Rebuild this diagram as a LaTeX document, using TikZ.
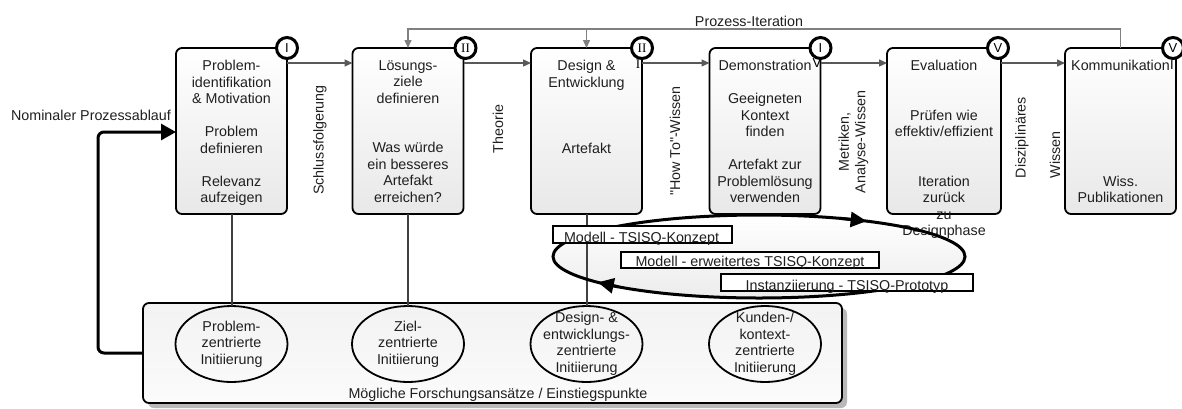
\documentclass[tikz,border=0pt]{standalone}
\usepackage{fontspec}
\setmainfont{Liberation Sans}[Ligatures=TeXOff]
\newfontfamily\romanfont{Liberation Serif}
\usetikzlibrary{arrows.meta,calc,shapes.geometric}
\begin{document}
\begin{tikzpicture}[x=1pt,y=-1pt,
  every node/.style={inner sep=0pt,outer sep=0pt},
  lbl/.style={font=\fontsize{14.3}{16.5}\selectfont,align=center,text=black!88},
  stepbox/.style={draw=black,line width=1.8pt,rounded corners=6pt,top color=white,bottom color=gray!18,minimum width=111pt,minimum height=166pt},
  steptext/.style={lbl,anchor=north,execute at begin node=\strut},
  numcirc/.style={circle,draw=black,line width=3pt,fill=white,minimum size=21pt,font=\fontsize{13}{15}\selectfont},
  numover/.style={font=\fontsize{13}{15}\selectfont},
  flow/.style={draw=black!65,line width=1.4pt,-{Triangle[length=8pt,width=7pt]}},
  iterline/.style={draw=black!50,line width=1.4pt},
  iterarrow/.style={iterline,-{Triangle[length=8pt,width=7pt]}},
  vline/.style={draw=black!75,line width=2pt},
  nominal/.style={draw=black,line width=3pt,rounded corners=6pt,-{Triangle[length=15pt,width=16pt]}},
  cycline/.style={draw=black,line width=3pt},
  cycarrow/.style={cycline,-{Triangle[length=16pt,width=15pt]}},
  tag/.style={draw=black,line width=1.8pt,fill=white},
  approach/.style={ellipse,draw=black,line width=1.8pt,minimum width=112pt,minimum height=76pt},
  rot/.style={lbl,rotate=90},
]

\useasboundingbox (0,0) rectangle (1182,408);

% panel of possible entry points, with its shadow
\fill[gray!55,rounded corners=6pt] (148,308) rectangle (847,408);
\node[draw=black,line width=1.8pt,rounded corners=6pt,top color=gray!10,bottom color=gray!3,
      minimum width=699pt,minimum height=100pt] (base) at (492.5,353) {};
\node[lbl,anchor=base] (basetxt) at (498,398) {Mögliche Forschungsansätze / Einstiegspunkte};

% artefact cycle (fill only; outline comes later)
\coordinate (cyc) at (759,256.5);
\shade[top color=white,bottom color=gray!15] (cyc) ellipse [x radius=206,y radius=41.5];

% process steps
\node[stepbox] (b1) at (231.5,131) {};
\node[stepbox] (b2) at (408,131) {};
\node[stepbox] (b3) at (586.5,131) {};
\node[stepbox] (b4) at (765,131) {};
\node[stepbox,minimum width=114pt] (b5) at (944,131) {};
\node[stepbox] (b6) at (1120.5,131) {};

\node[steptext] (t1) at ([yshift=-12.5pt]b1.north) {Problem-\\identifikation\\\& Motivation\\~\\Problem\\definieren\\~\\Relevanz\\aufzeigen};
\node[steptext] (t2) at ([yshift=-12.5pt]b2.north) {Lösungs-\\ziele\\definieren\\~\\~\\Was würde\\ein besseres\\Artefakt\\erreichen?};
\node[steptext] (t3) at ([yshift=-12.5pt]b3.north) {Design \&\\Entwicklung\\~\\~\\~\\Artefakt};
\node[steptext] (t4) at ([yshift=-12.5pt]b4.north) {Demonstration\\~\\Geeigneten\\Kontext\\finden\\~\\Artefakt zur\\Problemlösung\\verwenden};
\node[steptext] (t5) at ([yshift=-12.5pt]b5.north) {Evaluation\\~\\~\\Prüfen wie\\effektiv/effizient\\~\\~\\Iteration\\zurück\\zu\\Designphase};
\node[steptext] (t6) at ([yshift=-12.5pt]b6.north) {Kommunikation\\~\\~\\~\\~\\~\\~\\Wiss.\\Publikationen};

% step numbers
\node[numcirc] (n1) at (b1.north east) {I};
\node[numcirc] (n2) at ([xshift=2pt]b2.north east) {\romanfont II};
\node[numcirc] (n3) at (b3.north east) {\romanfont II};
\node[numcirc] (n4) at (b4.north east) {I};
\node[numcirc] (n5) at ([xshift=-3pt]b5.north east) {V};
\node[numcirc] (n6) at ([xshift=-3pt]b6.north east) {V};
\node[numover] (n3x) at (638,64) {\romanfont I};
\node[numover] (n4x) at (817,63) {V};
\node[numover] (n6x) at (1172,65) {I};

% flow between the steps
\draw[flow] ([yshift=-15pt]b1.north east) -- ([yshift=-15pt]b2.north west);
\draw[flow] ([yshift=-15pt]b2.north east) -- ([yshift=-15pt]b3.north west);
\draw[flow] ([yshift=-15pt]b3.north east) -- ([yshift=-15pt]b4.north west);
\draw[flow] ([yshift=-15pt]b4.north east) -- ([yshift=-15pt]b5.north west);
\draw[flow] ([yshift=-15pt]b5.north east) -- ([yshift=-15pt]b6.north west);

% process iteration
\coordinate (itop) at (0,29);
\draw[iterarrow] (b6.north) |- (b2.north |- itop) -- (b2.north);
\draw[iterarrow] (b3.north |- itop) -- (b3.north);
\node[lbl] (iterlabel) at (749,21) {Prozess-Iteration};

% entry points
\node[approach] (e1) at (231.5,344) {};
\node[approach] (e2) at (408,344) {};
\node[approach] (e3) at (586.5,344) {};
\node[approach] (e4) at (765,344) {};
\node[lbl] (e1t) at (e1) {Problem-\\zentrierte\\Initiierung};
\node[lbl] (e2t) at (e2) {Ziel-\\zentrierte\\Initiierung};
\node[lbl] (e3t) at (e3) {Design- \&\\entwicklungs-\\zentrierte\\Initiierung};
\node[lbl] (e4t) at (e4) {Kunden-/\\kontext-\\zentrierte\\Initiierung};

\draw[vline] (b1.south) -- (e1.north);
\draw[vline] (b2.south) -- (e2.north);
\draw[vline] (b3.south) -- (e3.north);

% nominal process entry
\coordinate (nomturn) at (98,132);
\draw[nominal] (base.west) -| (nomturn) -- (b1.west |- nomturn);
\node[lbl] (nomlabel) at (91,115) {Nominaler Prozessablauf};

% artefact cycle outline and direction
\draw[cycline] (cyc) ellipse [x radius=206,y radius=41.5];
\draw[cycarrow] ($(cyc)+(293:206 and 41.5)$) -- ($(cyc)+(301.5:206 and 41.5)$);
\draw[cycarrow] ($(cyc)+(133:206 and 41.5)$) -- ($(cyc)+(141.5:206 and 41.5)$);

\node[tag,minimum width=179pt,minimum height=17pt] (m1) at (642.5,234.5) {};
\node[lbl,anchor=base] (m1t) at (641.5,242) {Modell - TSISQ-Konzept};
\node[tag,minimum width=258pt,minimum height=16pt] (m2) at (750,260) {};
\node[lbl,anchor=base] (m2t) at (750,266.5) {Modell - erweitertes TSISQ-Konzept};
\node[tag,minimum width=252pt,minimum height=17pt] (m3) at (847,282.5) {};
\node[lbl,anchor=base] (m3t) at (847,290) {Instanziierung - TSISQ-Prototyp};

% knowledge passed between the steps
\node[rot] (r1) at (320,140) {Schlussfolgerung};
\node[rot] (r2) at (498,129) {Theorie};
\node[rot] (r3) at (675,141) {"How To"-Wissen};
\node[rot] (r4) at (853.5,142) {Metriken,\\Analyse-Wissen};
\node[rot,anchor=west] (r5) at (1022,178) {Disziplinäres};
\node[rot,anchor=west] (r6) at (1055,178) {Wissen};

\end{tikzpicture}
\end{document}
